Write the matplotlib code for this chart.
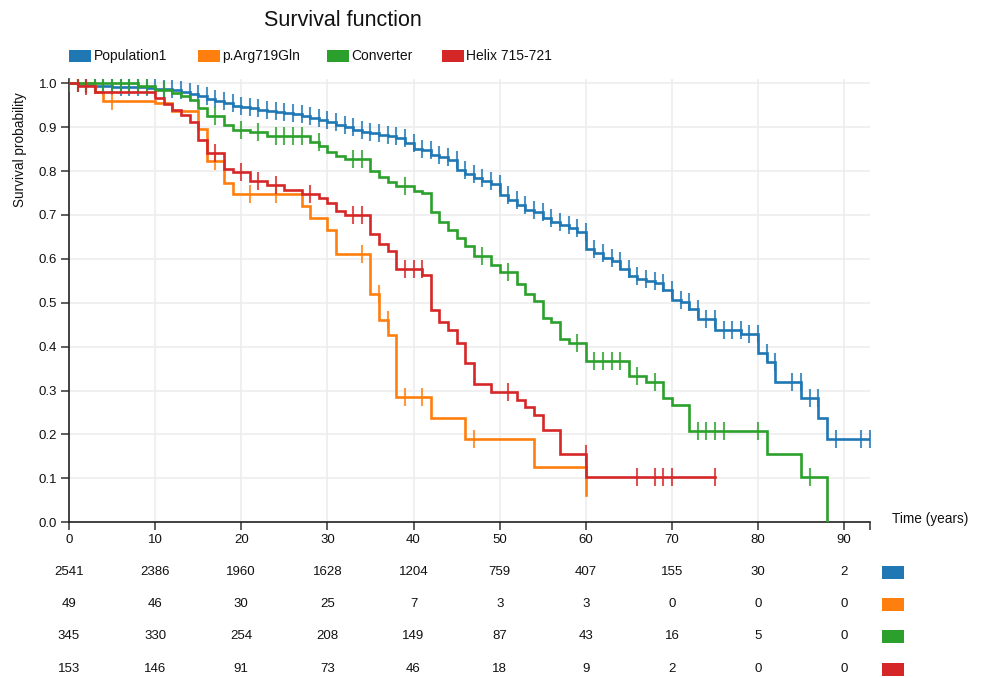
import numpy as np
import matplotlib
matplotlib.use('Agg')
import matplotlib.pyplot as plt
from matplotlib.patches import Rectangle
import matplotlib.transforms as mtransforms

plt.rcParams['font.family'] = ['Liberation Sans', 'DejaVu Sans']

# ---- data ----
labels = ['Population1', 'p.Arg719Gln', 'Converter', 'Helix 715-721']
colors = ['#1f77b4', '#ff7f0e', '#2ca02c', '#d62728']

# event times (years) and survival after each step
pop_t = [0, 1, 2, 3, 5, 7, 9, 10, 11, 12, 13, 14, 15, 16, 17, 18, 19, 20, 21, 22, 23, 24, 25, 26, 27, 28, 29, 30,
         31, 32, 33, 34, 35, 36, 37, 38, 39, 40, 41, 42, 43, 44, 45, 46, 47, 48, 49, 50, 51, 52, 53, 54, 55, 56,
         57, 58, 59, 60, 61, 62, 63, 64, 65, 66, 67, 68, 69, 70, 71, 72, 73, 75, 78, 80, 81, 82, 85, 87, 88]
pop_s = [1.0, 0.998, 0.996, 0.994, 0.992, 0.991, 0.990, 0.988, 0.986, 0.984, 0.980, 0.976, 0.970, 0.964, 0.960,
         0.955, 0.949, 0.946, 0.943, 0.940, 0.937, 0.935, 0.932, 0.929, 0.926, 0.921, 0.917, 0.912, 0.905, 0.901,
         0.894, 0.889, 0.886, 0.883, 0.880, 0.876, 0.864, 0.851, 0.848, 0.837, 0.832, 0.825, 0.803, 0.794, 0.784,
         0.777, 0.771, 0.745, 0.735, 0.722, 0.711, 0.706, 0.692, 0.685, 0.677, 0.670, 0.662, 0.622, 0.614, 0.603,
         0.596, 0.578, 0.560, 0.555, 0.550, 0.545, 0.529, 0.507, 0.502, 0.485, 0.464, 0.438, 0.429, 0.385, 0.364,
         0.319, 0.284, 0.237, 0.189]
pop_end = 93
pop_cens = list(range(1, 83)) + [84, 85, 86, 87, 89, 92, 93]

arg_t = [0, 3, 4, 10, 12, 15, 16, 18, 19, 27, 28, 30, 31, 35, 36, 37, 38, 42, 46, 54, 60]
arg_s = [1.0, 0.980, 0.959, 0.955, 0.938, 0.895, 0.822, 0.772, 0.747, 0.720, 0.694, 0.666, 0.611, 0.521,
         0.461, 0.427, 0.285, 0.237, 0.190, 0.126, 0.063]
arg_end = 60
arg_cens = [5, 17, 21, 24, 34, 36, 37, 39, 41, 47, 60]

conv_t = [0, 8, 10, 12, 13, 14, 15, 16, 18, 19, 21, 23, 28, 29, 30, 31, 32, 35, 36, 37, 38, 40, 41, 42, 43, 44,
          45, 46, 47, 49, 50, 52, 53, 54, 55, 56, 57, 58, 60, 65, 67, 69, 70, 72, 81, 85, 88]
conv_s = [1.0, 0.993, 0.985, 0.977, 0.971, 0.961, 0.944, 0.926, 0.905, 0.893, 0.888, 0.880, 0.866, 0.857,
          0.844, 0.835, 0.827, 0.801, 0.787, 0.774, 0.765, 0.755, 0.749, 0.706, 0.684, 0.666, 0.648, 0.630,
          0.606, 0.585, 0.571, 0.542, 0.520, 0.503, 0.466, 0.457, 0.417, 0.408, 0.368, 0.332, 0.319, 0.284,
          0.267, 0.207, 0.156, 0.103, 0.0]
conv_end = 88
conv_cens = [0, 1, 2, 3, 4, 5, 6, 7, 8, 9, 11, 17, 20, 22, 24, 25, 26, 27, 29, 33, 34, 39, 48, 51, 59, 61, 62,
             63, 64, 66, 68, 73, 74, 75, 76, 80, 86]

helix_t = [0, 1, 3, 10, 11, 12, 13, 14, 15, 16, 18, 19, 21, 23, 25, 27, 29, 30, 31, 32, 35, 36, 37, 38, 41,
           42, 43, 44, 45, 46, 47, 49, 52, 53, 54, 55, 57, 60]
helix_s = [1.0, 0.993, 0.980, 0.967, 0.953, 0.940, 0.927, 0.912, 0.870, 0.842, 0.804, 0.797, 0.778, 0.768,
           0.758, 0.747, 0.739, 0.728, 0.708, 0.699, 0.656, 0.634, 0.617, 0.576, 0.563, 0.483, 0.455, 0.438,
           0.408, 0.362, 0.314, 0.296, 0.279, 0.262, 0.245, 0.210, 0.155, 0.104]
helix_end = 75
helix_cens = [1, 2, 17, 20, 22, 24, 28, 33, 34, 39, 40, 41, 51, 60, 66, 68, 69, 70, 75]

# numbers at risk
risk_times = [0, 10, 20, 30, 40, 50, 60, 70, 80, 90]
risk_pop = [2541, 2386, 1960, 1628, 1204, 759, 407, 155, 30, 2]
risk_arg = [49, 46, 30, 25, 7, 3, 3, 0, 0, 0]
risk_conv = [345, 330, 254, 208, 149, 87, 43, 16, 5, 0]
risk_helix = [153, 146, 91, 73, 46, 18, 9, 2, 0, 0]

series = [(pop_t, pop_s, pop_end, pop_cens),
          (arg_t, arg_s, arg_end, arg_cens),
          (conv_t, conv_s, conv_end, conv_cens),
          (helix_t, helix_s, helix_end, helix_cens)]
risks = [risk_pop, risk_arg, risk_conv, risk_helix]

W, H = 983, 678
fig = plt.figure(figsize=(W / 100, H / 100), dpi=100)


def fx(px):
    return px / W


def fy(py):
    return 1 - py / H


ax = fig.add_axes([fx(69), fy(522.2), fx(870) - fx(69), fy(78.9) - fy(522.2)])

for (t, s, end, cens), c in zip(series, colors):
    t = np.array(t, dtype=float)
    s = np.array(s, dtype=float)
    xs = np.append(t, end)
    ys = np.append(s, s[-1])
    ax.step(xs, ys, where='post', color=c, lw=1.9, solid_joinstyle='miter', zorder=3)
    # censor marks sit on the value just before the time
    cens = np.array(cens, dtype=float)
    idx = np.clip(np.searchsorted(t, cens, side='left') - 1, 0, None)
    ax.plot(cens, s[idx], ls='none', marker='|', ms=13, mew=1.5, color=c, alpha=0.8, zorder=3)

ax.set_xlim(0, 93)
ax.set_ylim(0, 1.01)
ax.set_xticks(risk_times)
ax.set_xticks([93], minor=True)
ax.set_yticks(np.arange(0, 1.01, 0.1))
ax.set_yticklabels(['%.1f' % v for v in np.arange(0, 1.01, 0.1)])
ax.grid(True, color='#ededed', lw=1.2, zorder=0)
for sp in ['top', 'right']:
    ax.spines[sp].set_visible(False)
for sp in ['left', 'bottom']:
    ax.spines[sp].set_linewidth(1.2)
    ax.spines[sp].set_color('#222222')
ax.tick_params(axis='both', which='both', length=6, width=1.1, color='#333333',
               labelsize=9.5, pad=2.5, labelcolor='#111111')
ax.tick_params(axis='x', which='minor', length=6)

# title, axis labels
fig.text(fx(343), fy(21), 'Survival function', ha='center', va='center', fontsize=15.5, color='#111111')
fig.text(fx(20), fy(150), 'Survival probability', ha='center', va='center', rotation=90,
         fontsize=9.8, color='#111111')
fig.text(fx(892), fy(519), 'Time (years)', ha='left', va='center', fontsize=9.8, color='#111111')

# legend
leg_x = [69, 198, 327, 442]
for x0, lab, c in zip(leg_x, labels, colors):
    fig.add_artist(Rectangle((fx(x0), fy(61.5)), fx(22), 11.5 / H, transform=fig.transFigure,
                             color=c, lw=0))
    fig.text(fx(x0 + 24.5), fy(56), lab, ha='left', va='center', fontsize=10, color='#111111')

# numbers at risk
trans = mtransforms.blended_transform_factory(ax.transData, fig.transFigure)
row_y = [572, 604, 636, 669]
for ry, counts, c in zip(row_y, risks, colors):
    for tt, n in zip(risk_times, counts):
        ax.text(tt, fy(ry), str(n), transform=trans, ha='center', va='center',
                fontsize=9.5, color='#111111', clip_on=False)
    fig.add_artist(Rectangle((fx(882), fy(ry + 6.5)), fx(22), 13 / H, transform=fig.transFigure,
                             color=c, lw=0))

fig.savefig('out.png', dpi=100)
